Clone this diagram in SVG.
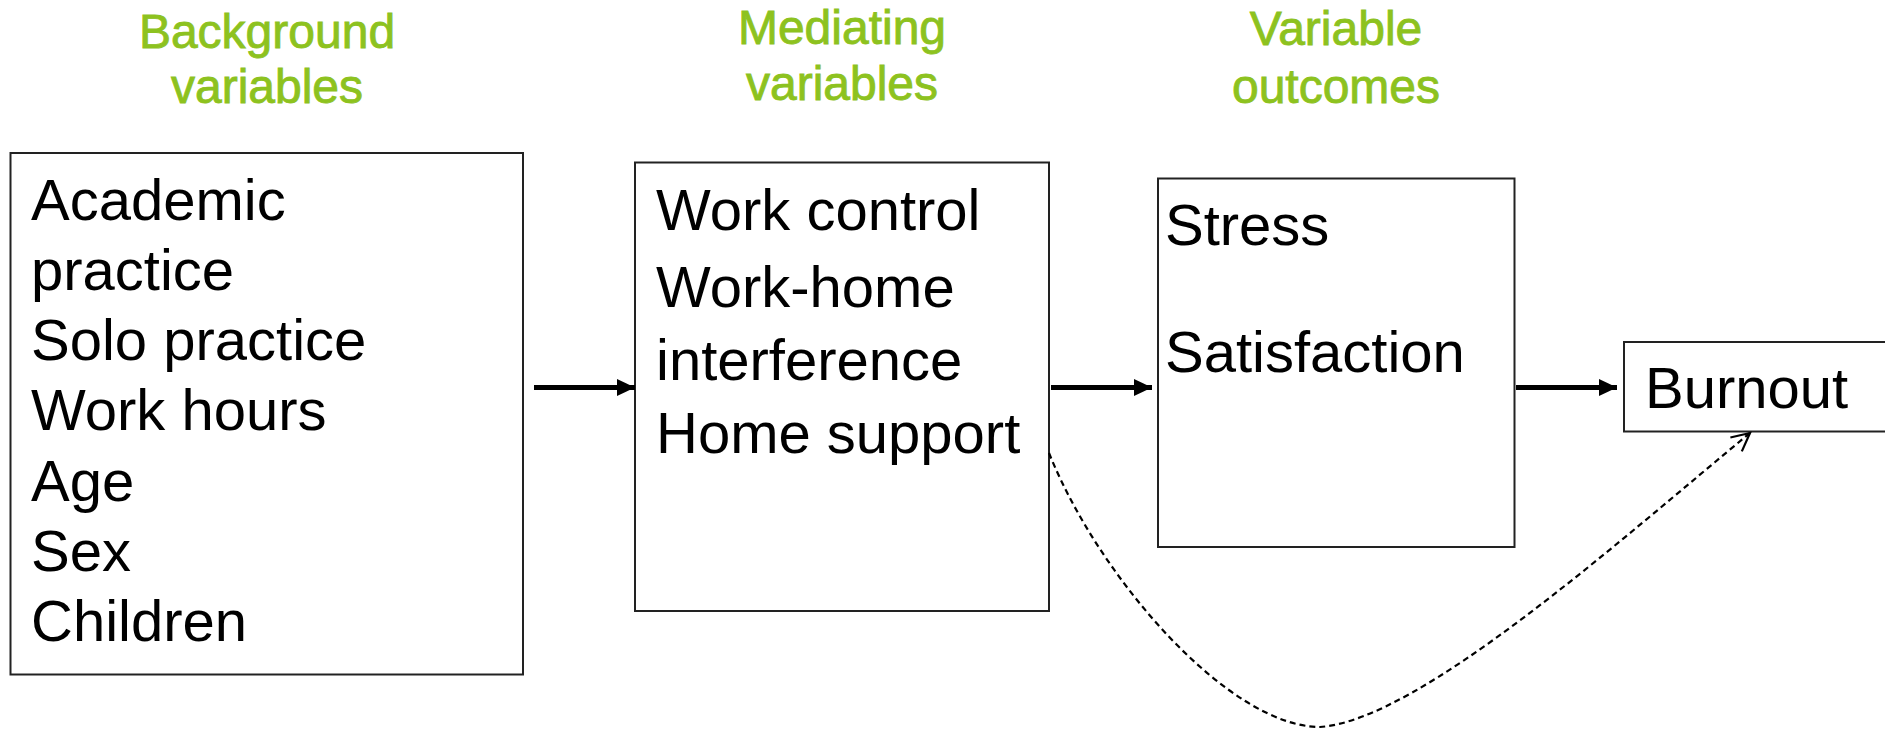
<svg xmlns="http://www.w3.org/2000/svg" width="1885" height="730" viewBox="0 0 1885 730">
  <style>
    .title { font-family: "Liberation Sans", Arial, sans-serif; font-size: 48px; fill: #8dc21f; stroke: #8dc21f; stroke-width: 0.9; text-anchor: middle; }
    .item { font-family: "Liberation Sans", Arial, sans-serif; font-size: 58px; fill: #000; }
    .box { fill: #fff; stroke: #222; stroke-width: 2; }
    .flow { stroke: #000; stroke-width: 5; fill: none; }
    .direct { stroke: #000; stroke-width: 2.2; stroke-dasharray: 6 4; fill: none; }
  </style>
  <defs>
    <marker id="solid-head" markerUnits="userSpaceOnUse" markerWidth="20" markerHeight="18" refX="18" refY="8.5" orient="auto">
      <path d="M0,0 L18,8.5 L0,17 Z" fill="#000"/>
    </marker>
    <marker id="open-head" markerUnits="userSpaceOnUse" markerWidth="24" markerHeight="24" refX="20" refY="11" orient="auto">
      <path d="M2,2 L20,11 L2,20" fill="none" stroke="#000" stroke-width="2.2"/>
    </marker>
  </defs>

  <rect width="1885" height="730" fill="#fff"/>

  <!-- column headings -->
  <g id="headings">
    <text class="title" x="267" y="48">Background</text>
    <text class="title" x="267" y="103">variables</text>
    <text class="title" x="842" y="44">Mediating</text>
    <text class="title" x="842" y="100">variables</text>
    <text class="title" x="1336" y="45">Variable</text>
    <text class="title" x="1336" y="103">outcomes</text>
  </g>

  <g id="background-variables">
    <rect class="box" x="10.5" y="153" width="512.5" height="521.5"/>
    <text class="item" x="31" y="220">Academic</text>
    <text class="item" x="31" y="290">practice</text>
    <text class="item" x="31" y="360">Solo practice</text>
    <text class="item" x="31" y="430">Work hours</text>
    <text class="item" x="31" y="501">Age</text>
    <text class="item" x="31" y="571">Sex</text>
    <text class="item" x="31" y="641">Children</text>
  </g>

  <g id="mediating-variables">
    <rect class="box" x="635" y="162.5" width="414" height="448.5"/>
    <text class="item" x="656" y="230">Work control</text>
    <text class="item" x="656" y="307">Work-home</text>
    <text class="item" x="656" y="380">interference</text>
    <text class="item" x="656" y="453">Home support</text>
  </g>

  <g id="variable-outcomes">
    <rect class="box" x="1158" y="178.5" width="356.5" height="368.5"/>
    <text class="item" x="1165" y="245">Stress</text>
    <text class="item" x="1165" y="372">Satisfaction</text>
  </g>

  <g id="burnout">
    <rect class="box" x="1624" y="342" width="280" height="89.5"/>
    <text class="item" x="1645" y="408">Burnout</text>
  </g>

  <g id="connectors">
    <line class="flow" x1="534" y1="387.5" x2="635" y2="387.5" marker-end="url(#solid-head)"/>
    <line class="flow" x1="1051" y1="387.5" x2="1152" y2="387.5" marker-end="url(#solid-head)"/>
    <line class="flow" x1="1516" y1="387.5" x2="1617" y2="387.5" marker-end="url(#solid-head)"/>
    <path class="direct" d="M1049,453 C1100,580 1230,727 1320,727 C1420,720 1620,540 1750,433" marker-end="url(#open-head)"/>
  </g>
</svg>
